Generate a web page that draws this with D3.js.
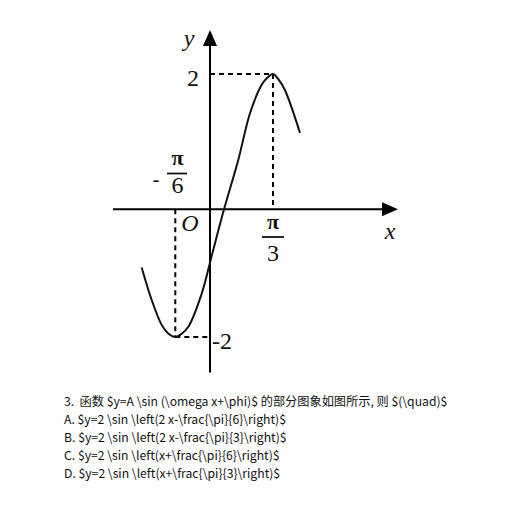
<!DOCTYPE html>
<html><head><meta charset="utf-8">
<script src="https://cdn.jsdelivr.net/npm/d3@7"></script>
<style>body{margin:0;background:#fff}svg{display:block}</style>
</head><body>
<script>
const PI = Math.PI;
// curve samples (x in radians, y value)
const curveX = [-1.031, -0.880, -0.729, -0.634, -PI/6, -0.423, -0.327, -0.125, 0.028, 0.233, 0.470, 0.665, 0.859, 0.947, PI/3, 1.147, 1.247, 1.496];
const curveY = [-0.91, -1.42, -1.81, -1.94, -2, -1.945, -1.84, -1.32, -0.73, 0, 0.73, 1.42, 1.84, 1.94, 2, 1.91, 1.76, 1.13];
const minPoint = [-PI/6, -2];
const maxPoint = [PI/3, 2];
const questionLines = [
  "3.  函数 $y=A \\sin (\\omega x+\\phi)$ 的部分图象如图所示, 则 $(\\quad)$",
  "A. $y=2 \\sin \\left(2 x-\\frac{\\pi}{6}\\right)$",
  "B. $y=2 \\sin \\left(2 x-\\frac{\\pi}{3}\\right)$",
  "C. $y=2 \\sin \\left(x+\\frac{\\pi}{6}\\right)$",
  "D. $y=2 \\sin \\left(x+\\frac{\\pi}{3}\\right)$"
];

const svg = d3.select("body").append("svg").attr("width",512).attr("height",512);
const x = d3.scaleLinear().domain([-PI/6, 0, PI/3]).range([175.3, 210, 273]);
const y = d3.scaleLinear().domain([-2, 0, 2]).range([337, 209.3, 74]);
const x0 = x(0), y0 = y(0);
const serif = "Liberation Serif, Times New Roman, DejaVu Serif, serif";

// axes
svg.append("line").attr("x1",113).attr("x2",386).attr("y1",y0).attr("y2",y0).attr("stroke","#000").attr("stroke-width",2);
svg.append("path").attr("d",`M${x0+188},${y0} L${x0+172},${y0-7} L${x0+172},${y0+7}Z`).attr("fill","#000");
svg.append("line").attr("x1",x0).attr("x2",x0).attr("y1",372.5).attr("y2",44).attr("stroke","#000").attr("stroke-width",2);
svg.append("path").attr("d",`M${x0},30 L${x0-7},46 L${x0+7},46Z`).attr("fill","#000");

// dashed guides
const dash = g => g.attr("stroke","#000").attr("stroke-width",2).attr("stroke-dasharray","5,4").attr("fill","none");
svg.append("line").attr("x1",x0).attr("x2",x(maxPoint[0])).attr("y1",y(maxPoint[1])).attr("y2",y(maxPoint[1])).call(dash);
svg.append("line").attr("x1",x(maxPoint[0])).attr("x2",x(maxPoint[0])).attr("y1",y(maxPoint[1])).attr("y2",y0).call(dash);
svg.append("line").attr("x1",x(minPoint[0])).attr("x2",x(minPoint[0])).attr("y1",y0).attr("y2",y(minPoint[1])).call(dash);
svg.append("line").attr("x1",x(minPoint[0])).attr("x2",x0).attr("y1",y(minPoint[1])).attr("y2",y(minPoint[1])).call(dash);

// curve
const pts = curveX.map((v,i)=>[v,curveY[i]]);
svg.append("path").datum(pts)
  .attr("d", d3.line().x(d=>x(d[0])).y(d=>y(d[1])).curve(d3.curveCatmullRom.alpha(0.5)))
  .attr("fill","none").attr("stroke","#111").attr("stroke-width",2);

// labels
const t = (tx,ty,s,size,italic) => svg.append("text").attr("x",tx).attr("y",ty).text(s)
  .attr("font-family",serif).attr("font-size",size).attr("text-anchor","middle")
  .attr("font-style",italic?"italic":"normal").attr("fill","#111");
t(189,46,"y",24,true);
t(193,86,"2",24,false);
t(190,231,"O",24,true);
t(390,239,"x",24,true);
t(212,349,"-2",24,false).attr("text-anchor","start");
// fractions
t(x(PI/3),229,"π",22,false).attr("font-weight","bold");
svg.append("line").attr("x1",x(PI/3)-11).attr("x2",x(PI/3)+11).attr("y1",237).attr("y2",237).attr("stroke","#111").attr("stroke-width",1.8);
t(x(PI/3),261,"3",24,false);
t(177.5,165,"π",22,false).attr("font-weight","bold");
svg.append("line").attr("x1",167).attr("x2",187).attr("y1",173.5).attr("y2",173.5).attr("stroke","#111").attr("stroke-width",1.8);
t(177.5,193,"6",24,false);
t(156,186,"-",20,false);

// question text
svg.append("g").selectAll("text").data(questionLines).join("text")
  .attr("x",64).attr("y",(d,i)=>406+i*18).text(d=>d)
  .attr("font-family","Noto Sans CJK SC, Noto Sans, sans-serif").attr("font-size",12.2).attr("fill","#111")
  .style("white-space","pre");
</script>
</body></html>
